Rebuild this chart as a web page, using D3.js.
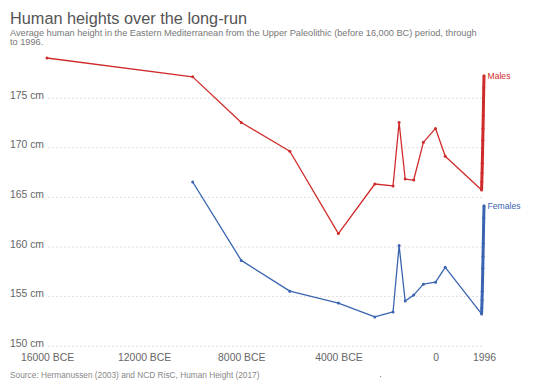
<!DOCTYPE html>
<html>
<head>
<meta charset="utf-8">
<script src="https://cdn.jsdelivr.net/npm/d3@7"></script>
<style>
  html, body { margin: 0; padding: 0; background: #fff; }
  svg { display: block; font-family: "Liberation Sans", Arial, Helvetica, sans-serif; }
</style>
</head>
<body>
<svg id="chart" width="550" height="388"></svg>
<script>
// ---- data ----
// Hermanussen (2003) period estimates
const maleYears = [-16000, -10000, -8000, -6000, -4000, -2500, -1750, -1500, -1250, -900, -500, 0, 400];
const maleValues = [179.0, 177.1, 172.5, 169.6, 161.3, 166.3, 166.1, 172.5, 166.8, 166.7, 170.5, 171.9, 169.1];
const femaleYears = [-10000, -8000, -6000, -4000, -2500, -1750, -1500, -1250, -900, -500, 0, 400];
const femaleValues = [166.5, 158.6, 155.5, 154.3, 152.9, 153.4, 160.1, 154.5, 155.1, 156.2, 156.4, 157.9];
// NCD RisC cohorts 1896-1996
const ncdYears = [1896, 1906, 1916, 1926, 1936, 1946, 1956, 1966, 1976, 1986, 1996];
const ncdMaleValues = [165.7, 166.5, 167.4, 168.4, 169.5, 170.7, 171.9, 173.2, 174.6, 176.0, 177.2];
const ncdFemaleValues = [153.2, 153.8, 154.6, 155.5, 156.6, 157.8, 159.0, 160.3, 161.6, 162.9, 164.1];

const seriesNames = ["Males", "Females"];
const seriesColors = ["#d02b2b", "#3a64b0"];
const yTicks = [150, 155, 160, 165, 170, 175];
const xTicks = [-16000, -12000, -8000, -4000, 0, 1996];

const titleText = "Human heights over the long-run";
const subtitleLines = [
  "Average human height in the Eastern Mediterranean from the Upper Paleolithic (before 16,000 BC) period, through",
  "to 1996."
];
const sourceText = "Source: Hermanussen (2003) and NCD RisC, Human Height (2017)";

// ---- layout ----
const svg = d3.select("#chart");
const x = d3.scaleLinear().domain([-16000, 1996]).range([47, 484]);
const y = d3.scaleLinear().domain([150, 179]).range([345.7, 58]);

// title / subtitle
svg.append("text").attr("x", 10).attr("y", 24)
  .attr("font-size", 16.3).attr("fill", "#555").text(titleText);
svg.append("g").selectAll("text").data(subtitleLines).join("text")
  .attr("x", 10).attr("y", (d, i) => 35.8 + i * 9.4)
  .attr("font-size", 9.2).attr("fill", "#777").text(d => d);

// y axis with grid
const yAxis = d3.axisLeft(y).tickValues(yTicks).tickFormat(d => d + " cm")
  .tickSize(-(484 - 48)).tickPadding(4);
const gy = svg.append("g").attr("transform", "translate(48,0)").call(yAxis);
gy.select(".domain").remove();
gy.selectAll(".tick line").attr("stroke", "#ddd").attr("stroke-dasharray", "2,2");
gy.selectAll(".tick text").attr("fill", "#666").attr("font-size", 10.4)
  .attr("font-family", "Liberation Sans, Arial, sans-serif").attr("dy", "0.05em");

// x axis
const xAxis = d3.axisBottom(x).tickValues(xTicks)
  .tickFormat(d => d < 0 ? (-d) + " BCE" : String(d)).tickSize(0).tickPadding(8.3);
const gx = svg.append("g").attr("transform", "translate(0,345.7)").call(xAxis);
gx.select(".domain").remove();
gx.selectAll(".tick text").attr("fill", "#666").attr("font-size", 10.4)
  .attr("font-family", "Liberation Sans, Arial, sans-serif");

// series
const series = [
  { name: seriesNames[0], color: seriesColors[0],
    pts: maleYears.map((yr, i) => [yr, maleValues[i]]),
    ncd: ncdYears.map((yr, i) => [yr, ncdMaleValues[i]]) },
  { name: seriesNames[1], color: seriesColors[1],
    pts: femaleYears.map((yr, i) => [yr, femaleValues[i]]),
    ncd: ncdYears.map((yr, i) => [yr, ncdFemaleValues[i]]) }
];
const line = d3.line().x(d => x(d[0])).y(d => y(d[1]));
series.forEach(s => {
  const g = svg.append("g");
  const all = s.pts.concat(s.ncd);
  g.append("path").datum(all).attr("d", line)
    .attr("fill", "none").attr("stroke", s.color).attr("stroke-width", 1.3)
    .attr("stroke-linejoin", "round");
  // dense annual cohort points read as a thick line
  g.append("path").datum(s.ncd).attr("d", line)
    .attr("fill", "none").attr("stroke", s.color).attr("stroke-width", 3)
    .attr("stroke-linejoin", "round");
  g.selectAll("circle").data(all).join("circle")
    .attr("cx", d => x(d[0])).attr("cy", d => y(d[1])).attr("r", 1.5)
    .attr("fill", s.color);
  const last = all[all.length - 1];
  g.append("text").attr("x", x(last[0]) + 3.5).attr("y", y(last[1]))
    .attr("dy", "0.35em").attr("font-size", 8.6).attr("fill", s.color).text(s.name);
});

// footer
svg.append("text").attr("x", 10).attr("y", 378.3)
  .attr("font-size", 8.3).attr("fill", "#888").text(sourceText);
svg.append("circle").attr("cx", 380.6).attr("cy", 376.5).attr("r", 0.7).attr("fill", "#999");
</script>
</body>
</html>
